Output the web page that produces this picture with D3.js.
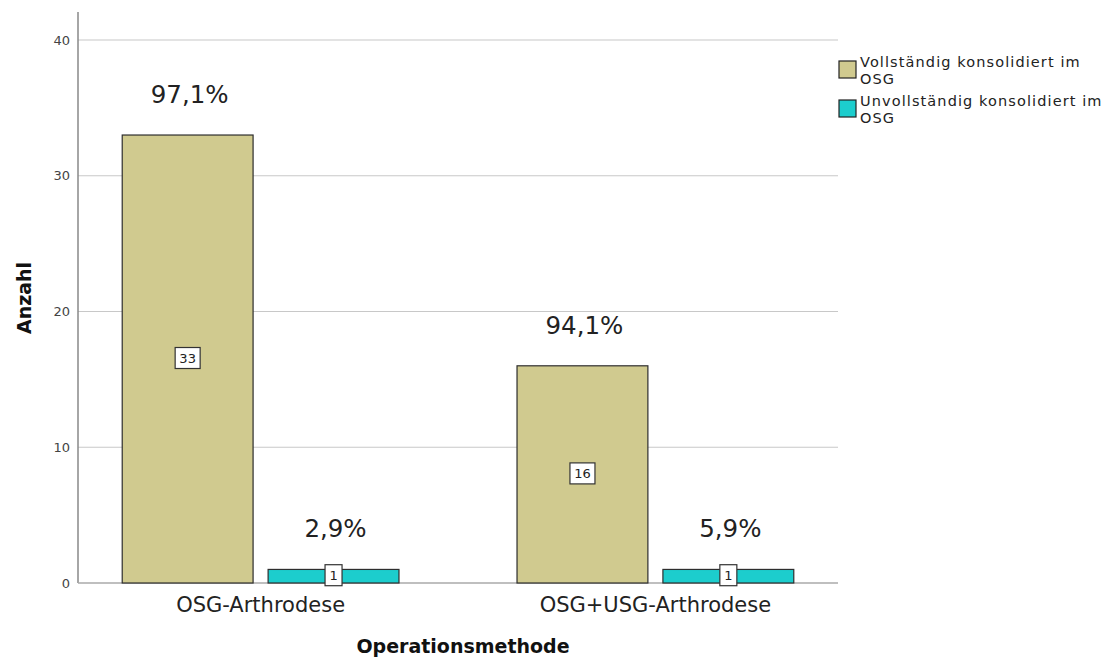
<!DOCTYPE html>
<html><head><meta charset="utf-8">
<script src="https://cdn.jsdelivr.net/npm/d3@7"></script>
<style>body{margin:0;background:#fff;} text{font-family:"DejaVu Sans",sans-serif;}</style>
</head><body><svg id="c" width="1116" height="657"></svg>
<script>
const categories = ["OSG-Arthrodese", "OSG+USG-Arthrodese"];
const seriesNames = ["Vollständig konsolidiert im OSG", "Unvollständig konsolidiert im OSG"];
const vollstaendig = [33, 16];
const unvollstaendig = [1, 1];
const percVoll = ["97,1%", "94,1%"];
const percUnvoll = ["2,9%", "5,9%"];
const yTicks = [0, 10, 20, 30, 40];
const colors = ["#d0ca8f", "#1ccdcd"];

const svg = d3.select("#c");
const L = 78, R = 838, T = 12, B = 583;
const y = d3.scaleLinear().domain([0, 40]).range([B, 40]);
const x0 = d3.scaleBand().domain(categories).range([L, R]).paddingInner(0.299).paddingOuter(0.112);
const x1 = d3.scaleBand().domain([0, 1]).range([0, x0.bandwidth()]).paddingInner(0.103);

// gridlines
svg.append("g").selectAll("line").data(yTicks.filter(d => d > 0)).join("line")
  .attr("x1", L).attr("x2", R).attr("y1", d => y(d)).attr("y2", d => y(d))
  .attr("stroke", "#c8c8c8").attr("stroke-width", 1.2);

// y axis
const ya = svg.append("g").attr("transform", `translate(${L},0)`)
  .call(d3.axisLeft(y).tickValues(yTicks).tickSize(0).tickPadding(8));
ya.select(".domain").remove();
ya.selectAll("text").attr("font-size", 13).attr("fill", "#444").attr("font-family", "DejaVu Sans, sans-serif");
svg.append("line").attr("x1", L).attr("x2", L).attr("y1", T).attr("y2", B).attr("stroke", "#888").attr("stroke-width", 1.5);
svg.append("line").attr("x1", L).attr("x2", R).attr("y1", B).attr("y2", B).attr("stroke", "#aaa").attr("stroke-width", 1.5);

const data = categories.map((c, i) => ({c, vals: [vollstaendig[i], unvollstaendig[i]], perc: [percVoll[i], percUnvoll[i]]}));
const g = svg.append("g").selectAll("g").data(data).join("g")
  .attr("transform", d => `translate(${x0(d.c)},0)`);
const bars = g.selectAll("g.bar").data(d => d.vals.map((v, k) => ({v, k, p: d.perc[k]}))).join("g").attr("class", "bar");
bars.append("rect")
  .attr("x", d => x1(d.k)).attr("width", x1.bandwidth())
  .attr("y", d => y(d.v)).attr("height", d => y(0) - y(d.v))
  .attr("fill", d => colors[d.k]).attr("stroke", "#2e2e2e").attr("stroke-width", 1.2);
// value box labels
bars.each(function(d) {
  const gg = d3.select(this);
  const cx = x1(d.k) + x1.bandwidth() / 2, cy = y(d.v / 2) - 1;
  const s = String(d.v);
  const w = s.length * 8 + 9, h = 21;
  gg.append("rect").attr("x", cx - w / 2).attr("y", cy - h / 2).attr("width", w).attr("height", h)
    .attr("fill", "#fff").attr("stroke", "#333").attr("stroke-width", 1.2);
  gg.append("text").attr("x", cx).attr("y", cy + 5).attr("text-anchor", "middle")
    .attr("font-size", 13).attr("fill", "#222").text(s);
  gg.append("text").attr("x", cx + 2).attr("y", y(d.v) - 32).attr("text-anchor", "middle")
    .attr("font-family", "Liberation Sans, Arial, sans-serif")
    .attr("font-size", 24.5).attr("fill", "#222").text(d.p);
});

// x labels
svg.append("g").selectAll("text").data(categories).join("text")
  .attr("x", d => x0(d) + x0.bandwidth() / 2).attr("y", 612).attr("text-anchor", "middle")
  .attr("font-size", 21).attr("fill", "#222").text(d => d);

// axis titles
svg.append("text").attr("x", 463).attr("y", 653).attr("text-anchor", "middle")
  .attr("font-size", 19).attr("font-weight", "bold").attr("fill", "#111").text("Operationsmethode");
svg.append("text").attr("transform", "translate(31,298) rotate(-90)").attr("text-anchor", "middle")
  .attr("font-size", 19).attr("font-weight", "bold").attr("fill", "#111").text("Anzahl");

// legend
const lg = svg.append("g").attr("transform", "translate(839,61)");
seriesNames.forEach((n, i) => {
  const yy = i * 39;
  lg.append("rect").attr("x", 0).attr("y", yy).attr("width", 17).attr("height", 17)
    .attr("fill", colors[i]).attr("stroke", "#222").attr("stroke-width", 1.2);
  const words = n.split(" ");
  const line1 = words.slice(0, -1).join(" "), line2 = words[words.length - 1];
  lg.append("text").attr("x", 21).attr("y", yy + 6).attr("font-size", 14.5).attr("letter-spacing", 1.1).attr("fill", "#222").text(line1);
  lg.append("text").attr("x", 21).attr("y", yy + 23).attr("font-size", 14.5).attr("letter-spacing", 1.1).attr("fill", "#222").text(line2);
});
</script></body></html>
